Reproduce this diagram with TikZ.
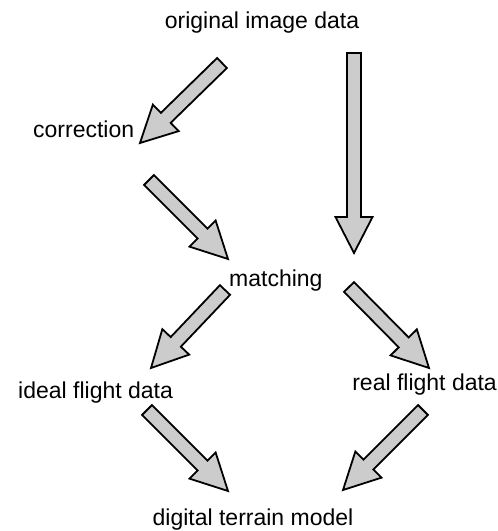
\documentclass[tikz,border=0pt]{standalone}
\usepackage{fontspec}
\setmainfont{Liberation Sans}
\usetikzlibrary{calc}
\tikzset{
  lbl/.style={inner sep=0pt, font=\fontsize{23}{27}\selectfont},
  blockarr/.style={draw=black, line width=1.8pt, fill=black!20, line join=miter},
}
\newcommand\blockarrow[2]{%
  \coordinate (hb) at ($(#2)!36pt!(#1)$);
  \draw[blockarr] ($(#1)!7pt!90:(#2)$) -- ($(hb)!7pt!90:(#2)$) -- ($(hb)!18.5pt!90:(#2)$)
    -- (#2) -- ($(hb)!18.5pt!-90:(#2)$) -- ($(hb)!7pt!-90:(#2)$) -- ($(#1)!7pt!-90:(#2)$) -- cycle;
}
\begin{document}
\begin{tikzpicture}[x=1pt,y=-1pt]
\useasboundingbox (0,0) rectangle (498,531);
% text nodes
\node[lbl, anchor=base] (orig) at (262,28) {original image data};
\node[lbl, anchor=base west] (corr) at (33,137) {correction};
\node[lbl, anchor=base west] (match) at (229,286) {matching};
\node[lbl, anchor=base west] (ideal) at (18,398) {ideal flight data};
\node[lbl, anchor=base east] (real) at (497,390) {real flight data};
\node[lbl, anchor=base] (dtm) at (253,525) {digital terrain model};
% arrow end points
\coordinate (a1t) at (222,63);   \coordinate (a1h) at (140,143);
\coordinate (a2t) at (354,53);   \coordinate (a2h) at (354,253);
\coordinate (a3t) at (149,180);  \coordinate (a3h) at (228,259);
\coordinate (a4t) at (225,290);  \coordinate (a4h) at (151,368);
\coordinate (a5t) at (349,287);  \coordinate (a5h) at (429,368);
\coordinate (a6t) at (147,410);  \coordinate (a6h) at (228,491);
\coordinate (a7t) at (423,410);  \coordinate (a7h) at (343,490);
\blockarrow{a1t}{a1h}
\blockarrow{a2t}{a2h}
\blockarrow{a3t}{a3h}
\blockarrow{a4t}{a4h}
\blockarrow{a5t}{a5h}
\blockarrow{a6t}{a6h}
\blockarrow{a7t}{a7h}
\end{tikzpicture}
\end{document}
